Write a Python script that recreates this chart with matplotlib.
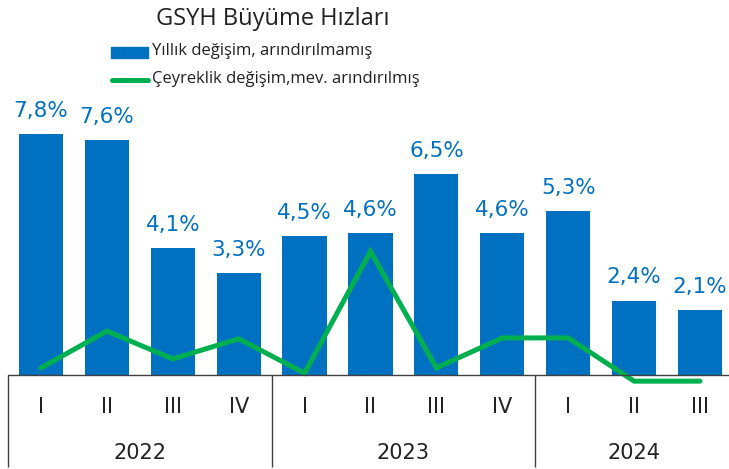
import numpy as np
import matplotlib.pyplot as plt
from matplotlib.patches import Rectangle
from matplotlib.lines import Line2D

# Data
quarters = ['I', 'II', 'III', 'IV', 'I', 'II', 'III', 'IV', 'I', 'II', 'III']
years = ['2022', '2023', '2024']
year_sizes = [4, 4, 3]
annual = [7.8, 7.6, 4.1, 3.3, 4.5, 4.6, 6.5, 4.6, 5.3, 2.4, 2.1]
quarterly = [0.23, 1.42, 0.52, 1.17, 0.06, 4.0, 0.23, 1.2, 1.2, -0.2, -0.2]

blue = '#0070C0'
green = '#00B050'
dark = '#222222'

plt.rcParams['font.family'] = ['DejaVu Sans']

fig = plt.figure(figsize=(7.29, 4.69), dpi=100)
ax = fig.add_axes([8 / 729, 86 / 469, 721 / 729, 301.5 / 469])

x = np.arange(len(annual))
ax.bar(x, annual, width=0.67, color=blue, zorder=2)
ax.plot(x, quarterly, color=green, lw=3.6, solid_capstyle='round',
        solid_joinstyle='miter', zorder=3, clip_on=False)

for xi, v in zip(x, annual):
    ax.annotate(f"{v:.1f}%".replace('.', ','), (xi, v), xytext=(0, 12.5),
                textcoords='offset points', ha='center', va='baseline',
                fontsize=15.5, color=blue)

ax.set_xlim(-0.5, 10.44)
ax.set_ylim(-0.26, 9.5)
ax.axhline(0, color='#404040', lw=1, zorder=4)

# category axis
bounds = np.cumsum([0] + year_sizes) - 0.5
ax.vlines(bounds[:-1], -2.98, 0, color='#404040', lw=1, clip_on=False)
for xi, q in zip(x, quarters):
    ax.text(xi, -1.05, q, ha='center', va='center', fontsize=15, color=dark)
for i, y in enumerate(years):
    ax.text((bounds[i] + bounds[i + 1]) / 2, -2.52, y, ha='center',
            va='center', fontsize=15, color=dark)

for s in ax.spines.values():
    s.set_visible(False)
ax.set_xticks([])
ax.set_yticks([])

# title and legend
fig.text(273 / 729, 1 - 19 / 469, 'GSYH Büyüme Hızları', ha='center',
         va='center', fontsize=17, color=dark, family='Open Sans')
fig.patches.append(Rectangle((111 / 729, 1 - 58 / 469), 37 / 729, 11 / 469,
                             color=blue, transform=fig.transFigure))
fig.lines.append(Line2D([112 / 729, 148 / 729], [1 - 80 / 469, 1 - 80 / 469],
                        color=green, lw=3.6, solid_capstyle='round',
                        transform=fig.transFigure))
fig.text(152 / 729, 1 - 51 / 469, 'Yıllık değişim, arındırılmamış',
         ha='left', va='center', fontsize=12, color=dark, family='Open Sans')
fig.text(152 / 729, 1 - 79 / 469, 'Çeyreklik değişim,mev. arındırılmış',
         ha='left', va='center', fontsize=12, color=dark, family='Open Sans')

fig.savefig('out.png', dpi=100)
